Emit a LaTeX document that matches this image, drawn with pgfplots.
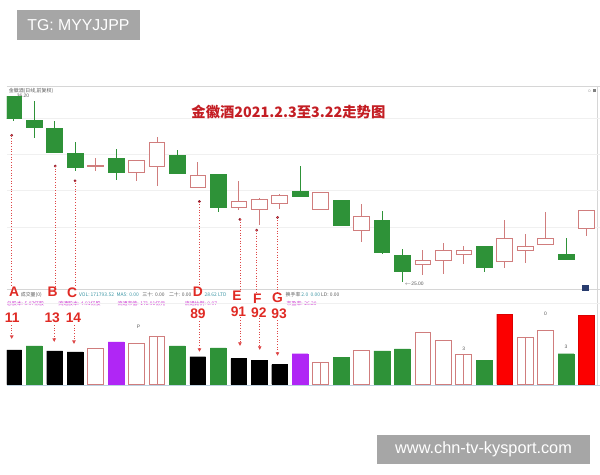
\documentclass[border=0pt]{standalone}
\usepackage{pgfplots}
\pgfplotsset{compat=1.18}
\usepgfplotslibrary{statistics}
\usetikzlibrary{arrows.meta}
\usepackage{fontspec}
\setmainfont{Liberation Sans}
\newfontfamily\cjk{Noto Sans CJK SC}
\definecolor{cgreen}{RGB}{46,146,56}
\definecolor{cpink}{RGB}{208,125,125}
\definecolor{cpurple}{RGB}{176,38,245}
\definecolor{cred}{RGB}{252,0,0}
\definecolor{credd}{RGB}{220,0,0}
\definecolor{ann}{RGB}{224,42,36}
\definecolor{annline}{RGB}{222,70,70}
\definecolor{anndot}{RGB}{150,30,45}
\definecolor{wm}{RGB}{166,166,166}
\definecolor{frm}{RGB}{214,214,214}
\definecolor{gridc}{RGB}{240,240,240}
\definecolor{bline}{RGB}{190,210,225}
\definecolor{navy2}{RGB}{40,60,110}
\definecolor{hdr}{RGB}{90,90,90}
\definecolor{teal2}{RGB}{60,150,165}
\definecolor{mag}{RGB}{205,55,210}
\definecolor{ttl}{RGB}{196,30,36}
\newcommand{\tf}{\fontsize{5}{6}\selectfont}
\pgfplotsset{
  dn/.style={line width=0.6pt, mark=none, draw=cgreen,
    boxplot/every box/.style={draw=cgreen, fill=cgreen},
    boxplot/every whisker/.style={draw=cgreen},
    boxplot/every median/.style={draw=cgreen}},
  up/.style={line width=0.6pt, mark=none, draw=cpink,
    boxplot/every box/.style={draw=cpink, fill=white},
    boxplot/every whisker/.style={draw=cpink},
    boxplot/every median/.style={draw=cpink}},
}
% style, position, low, body low, body high, high
\newcommand{\candle}[6]{\addplot[#1, boxplot prepared={draw position=#2, lower whisker=#3, lower quartile=#4, median=#4, upper quartile=#5, upper whisker=#6}] coordinates {};}
\begin{document}
\begin{tikzpicture}[x=1pt,y=1pt]
\path[fill=white] (0pt,0pt) rectangle (600pt,480pt);
% header texts
\node[anchor=west, inner sep=0pt, text=hdr, font=\tf\cjk] at (2pt,388pt) {金徽酒(日线,前复权)};
\node[anchor=west, inner sep=0pt, text=hdr, font=\tf] at (10pt,383pt) {36.20};
\node[anchor=west, inner sep=0pt, text=hdr, font=\tf\cjk] at (14pt,182pt) {成交量(0)};
\node[anchor=west, inner sep=0pt, text=teal2, font=\tf\cjk] at (73pt,182pt) {VOL: 171793.52};
\node[anchor=west, inner sep=0pt, text=teal2, font=\tf\cjk] at (111pt,182pt) {MA5: 0.00};
\node[anchor=west, inner sep=0pt, text=hdr, font=\tf\cjk] at (137pt,182pt) {三十: 0.00};
\node[anchor=west, inner sep=0pt, text=hdr, font=\tf\cjk] at (164pt,182pt) {二十: 0.00};
\node[anchor=west, inner sep=0pt, text=teal2, font=\tf\cjk] at (200pt,182pt) {28.62 LTD};
\node[anchor=west, inner sep=0pt, text=hdr, font=\tf\cjk] at (282pt,182pt) {换手率};
\node[anchor=west, inner sep=0pt, text=teal2, font=\tf\cjk] at (298pt,182pt) {2.0 \ 0.00};
\node[anchor=west, inner sep=0pt, text=hdr, font=\tf\cjk] at (318pt,182pt) {LD: 0.00};
\node[anchor=west, inner sep=0pt, text=mag, font=\tf\cjk] at (0pt,173pt) {总股本: 5.07亿股};
\node[anchor=west, inner sep=0pt, text=mag, font=\tf\cjk] at (52pt,173pt) {流通股本: 4.91亿股};
\node[anchor=west, inner sep=0pt, text=mag, font=\tf\cjk] at (112pt,173pt) {流通市值: 171.91亿元};
\node[anchor=west, inner sep=0pt, text=mag, font=\tf\cjk] at (180pt,173pt) {流通比例: 0.97};
\node[anchor=west, inner sep=0pt, text=mag, font=\tf\cjk] at (283pt,173pt) {市盈率: 26.20};
% frame
\draw[frm, line width=0.6pt] (0pt,393pt) -- (600pt,393pt);
\draw[frm, line width=0.6pt] (0pt,187pt) -- (600pt,187pt);
\draw[frm, line width=0.6pt] (598pt,90pt) -- (598pt,393pt);
\draw[bline, line width=0.7pt] (0pt,90pt) -- (600pt,90pt);
\node[anchor=east, inner sep=0pt, text=gray, font=\tf] at (596pt,388pt) {$\circ$ \rule{3pt}{3pt}};
\fill[navy2] (582pt,185pt) rectangle (589pt,192pt);

% price panel
\begin{axis}[at={(0pt,187pt)}, anchor=south west, scale only axis,
  width=600pt, height=206pt,
  xmin=0.662, xmax=29.647, ymin=24.52, ymax=36.80,
  axis line style={draw=none}, xtick=\empty,
  ytick={28.28,30.48,32.68,34.88}, yticklabels={},
  major tick length=0pt, ymajorgrids,
  grid style={draw=gridc, line width=0.5pt},
  boxplot/draw direction=y, boxplot/box extend=0.77, boxplot/whisker extend=0]
\candle{dn}{1}{34.71}{34.83}{36.20}{36.20}
\candle{dn}{2}{33.64}{34.30}{34.71}{35.91}
\candle{dn}{3}{32.81}{32.81}{34.24}{34.66}
\candle{dn}{4}{31.68}{31.91}{32.75}{33.40}
\candle{up}{5}{31.68}{31.95}{31.99}{32.45}
\candle{dn}{6}{31.14}{31.62}{32.45}{32.99}
\candle{up}{7}{31.08}{31.62}{32.33}{32.33}
\candle{up}{8}{30.78}{31.97}{33.40}{33.70}
\candle{dn}{9}{31.56}{31.56}{32.63}{32.93}
\candle{up}{10}{30.66}{30.66}{31.44}{32.21}
\candle{dn}{11}{29.17}{29.47}{31.50}{31.50}
\candle{up}{12}{29.29}{29.47}{29.83}{31.08}
\candle{up}{13}{28.40}{29.35}{29.95}{30.07}
\candle{up}{14}{29.35}{29.71}{30.19}{30.30}
\candle{dn}{15}{30.13}{30.13}{30.42}{31.97}
\candle{up}{16}{29.29}{29.35}{30.36}{30.36}
\candle{dn}{17}{28.34}{28.40}{29.89}{29.89}
\candle{up}{18}{27.38}{28.10}{28.93}{29.65}
\candle{dn}{19}{26.67}{26.79}{28.70}{29.23}
\candle{dn}{20}{25.00}{25.60}{26.61}{26.97}
\candle{up}{21}{25.42}{26.07}{26.31}{26.91}
\candle{up}{22}{25.48}{26.31}{26.91}{27.32}
\candle{up}{23}{26.07}{26.67}{26.91}{27.15}
\candle{dn}{24}{25.60}{25.89}{27.15}{27.15}
\candle{up}{25}{25.83}{26.25}{27.62}{28.70}
\candle{up}{26}{26.13}{26.91}{27.15}{27.86}
\candle{up}{27}{27.26}{27.26}{27.62}{29.17}
\candle{dn}{28}{26.37}{26.37}{26.67}{27.62}
\candle{up}{29}{27.74}{28.22}{29.29}{29.29}
% annotation points
\addplot[only marks, mark=*, mark size=1.2pt, color=anndot] coordinates
  {(0.90,33.82) (3.03,31.97) (4.00,31.08) (10.08,29.83) (12.06,28.75) (12.88,28.10) (13.90,28.87)};
\node[anchor=west, inner sep=0pt, text=hdr, font=\tf] at (axis cs:20.1,24.88) {$\leftarrow$25.00};
\end{axis}

% volume panel
\begin{axis}[at={(0pt,90pt)}, anchor=south west, scale only axis,
  width=600pt, height=97pt,
  xmin=0.662, xmax=29.647, ymin=-0.1, ymax=9.6,
  axis line style={draw=none}, xtick=\empty,
  ytick={8.2}, yticklabels={}, major tick length=0pt, ymajorgrids,
  grid style={draw=gridc, line width=0.5pt}]
\addplot[ybar, bar width=16pt, bar shift=0pt, fill=black, draw=black] coordinates
  {(1,3.5) (3,3.4) (4,3.3) (10,2.8) (12,2.6) (13,2.4) (14,2.0)};
\addplot[ybar, bar width=16pt, bar shift=0pt, fill=cgreen, draw=cgreen] coordinates
  {(2,3.9) (9,3.9) (11,3.7) (17,2.7) (19,3.4) (20,3.6) (24,2.4) (28,3.1)};
\addplot[ybar, bar width=16pt, bar shift=0pt, fill=cpurple, draw=cpurple] coordinates
  {(6,4.3) (15,3.1)};
\addplot[ybar, bar width=16pt, bar shift=0pt, fill=white, draw=cpink, line width=0.6pt] coordinates
  {(5,3.7) (7,4.2) (8,4.9) (16,2.2) (18,3.4) (21,5.3) (22,4.5) (23,3.0) (26,4.8) (27,5.5)};
\addplot[ybar, bar width=16pt, bar shift=0pt, fill=cred, draw=credd] coordinates
  {(25,7.1) (29,7.0)};
\addplot[ycomb, mark=none, draw=cpink, line width=0.6pt] coordinates
  {(8,4.9) (16,2.2) (23,3.0) (26,4.8)};
\node[text=hdr, font=\tf, inner sep=0pt] at (axis cs:7.1,5.8) {P};
\node[text=hdr, font=\tf, inner sep=0pt] at (axis cs:23,3.6) {3};
\node[text=hdr, font=\tf, inner sep=0pt] at (axis cs:27,7.1) {0};
\node[text=hdr, font=\tf, inner sep=0pt] at (axis cs:28,3.8) {3};
\end{axis}

% annotation lines, letters and numbers
\tikzset{dl/.style={draw=annline, dotted, line width=0.7pt},
         ar/.style={dl, -{Triangle[length=3.5pt,width=3.5pt]}},
         lt/.style={text=ann, inner sep=0pt, font=\fontsize{14}{14}\selectfont\bfseries}}
\draw[dl] (5pt,343pt) -- (5pt,190pt);
\draw[dl] (49pt,312pt) -- (49pt,190pt);
\draw[dl] (69pt,297pt) -- (69pt,189pt);
\draw[dl] (195pt,276pt) -- (195pt,190pt);
\draw[dl] (236pt,258pt) -- (236pt,187pt);
\draw[dl] (253pt,247pt) -- (253pt,184pt);
\draw[dl] (274pt,260pt) -- (274pt,184pt);
\draw[ar] (5pt,151pt) -- (5pt,137pt);
\draw[ar] (48pt,151pt) -- (48pt,134pt);
\draw[ar] (68pt,151pt) -- (68pt,132pt);
\draw[ar] (195pt,155pt) -- (195pt,124pt);
\draw[ar] (236pt,159pt) -- (236pt,130pt);
\draw[ar] (256pt,158pt) -- (256pt,126pt);
\draw[ar] (274pt,156pt) -- (274pt,120pt);
\node[lt] at (7.5pt,184.5pt) {A};
\node[lt] at (46.5pt,185pt) {B};
\node[lt] at (66pt,183.5pt) {C};
\node[lt] at (193.5pt,184.5pt) {D};
\node[lt] at (233pt,180.5pt) {E};
\node[lt] at (253.5pt,178pt) {F};
\node[lt] at (274pt,178.5pt) {G};
\node[lt] at (5.5pt,158pt) {11};
\node[lt] at (46pt,158pt) {13};
\node[lt] at (67.5pt,158pt) {14};
\node[lt] at (193.5pt,162pt) {89};
\node[lt] at (234.5pt,165pt) {91};
\node[lt] at (255pt,164pt) {92};
\node[lt] at (275.5pt,162pt) {93};
% title
\node[text=ttl, inner sep=0pt, font=\fontsize{14.5}{15}\selectfont\cjk\bfseries] at (285pt,367pt) {金徽酒2021.2.3至3.22走势图};
% watermarks
\node[fill=wm, text=white, inner sep=0pt, minimum width=125pt, minimum height=30pt, font=\fontsize{16}{16}\selectfont] at (72.5pt,455pt) {TG: MYYJJPP};
\node[fill=wm, text=white, inner sep=0pt, minimum width=215pt, minimum height=30pt, font=\fontsize{16.5}{16.5}\selectfont] at (482.5pt,25pt) {www.chn-tv-kysport.com};
\end{tikzpicture}
\end{document}
